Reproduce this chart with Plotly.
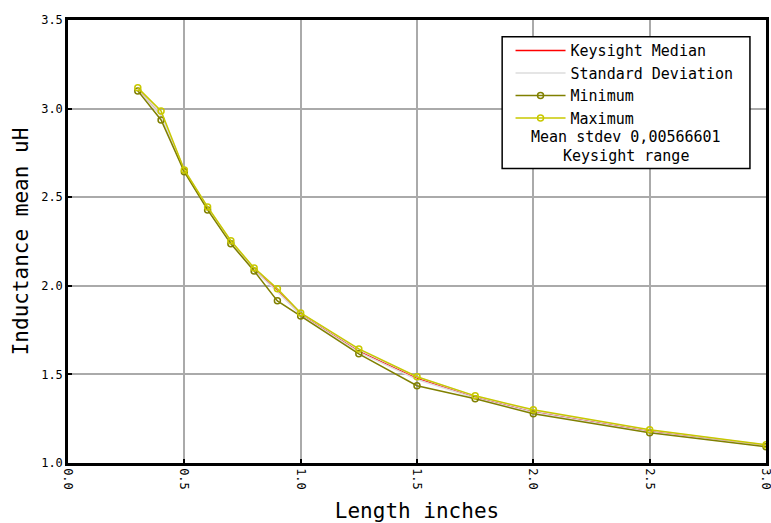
import plotly.graph_objects as go

length_in = [0.3, 0.4, 0.5, 0.6, 0.7, 0.8, 0.9, 1.0, 1.25, 1.5, 1.75, 2.0, 2.5, 3.0]
ind_max = [3.117, 2.987, 2.654, 2.445, 2.254, 2.101, 1.983, 1.847, 1.644, 1.487, 1.379, 1.300, 1.188, 1.103]
ind_min = [3.100, 2.936, 2.643, 2.428, 2.237, 2.084, 1.915, 1.830, 1.616, 1.436, 1.362, 1.278, 1.171, 1.092]
ind_median = [3.108, 2.965, 2.650, 2.437, 2.246, 2.093, 1.975, 1.840, 1.632, 1.478, 1.372, 1.290, 1.180, 1.098]
stdev = [0.006, 0.006, 0.005, 0.005, 0.005, 0.005, 0.008, 0.006, 0.006, 0.007, 0.005, 0.005, 0.005, 0.004]
mean_stdev_text = "Mean stdev 0,00566601"
range_text = "Keysight range"

upper = [m + s for m, s in zip(ind_median, stdev)]
lower = [m - s for m, s in zip(ind_median, stdev)]

FONT = "DejaVu Sans Mono"

fig = go.Figure()
fig.add_trace(go.Scatter(x=length_in, y=ind_median, mode="lines", name="Keysight Median",
                         line=dict(color="#ff0000", width=1.5)))
fig.add_trace(go.Scatter(x=length_in, y=upper, mode="lines", name="Standard Deviation",
                         line=dict(color="#dddddd", width=1.5), legendgroup="sd"))
fig.add_trace(go.Scatter(x=length_in, y=lower, mode="lines", name="Standard Deviation",
                         line=dict(color="#dddddd", width=1.5), legendgroup="sd", showlegend=False))
fig.add_trace(go.Scatter(x=length_in, y=ind_min, mode="lines+markers", name="Minimum",
                         line=dict(color="#808000", width=1.5),
                         marker=dict(symbol="circle-open", size=6, color="#808000", line=dict(width=1.5))))
fig.add_trace(go.Scatter(x=length_in, y=ind_max, mode="lines+markers", name="Maximum",
                         line=dict(color="#c8c800", width=1.5),
                         marker=dict(symbol="circle-open", size=6, color="#c8c800", line=dict(width=1.5))))

# legend box (white, black border) and extra legend text lines
fig.add_shape(type="rect", xref="paper", yref="paper", x0=0.622, x1=0.977, y0=0.665, y1=0.962,
              fillcolor="white", line=dict(color="black", width=1.5), layer="above")
fig.add_annotation(xref="paper", yref="paper", x=0.80, y=0.736, text=mean_stdev_text, showarrow=False,
                   font=dict(family=FONT, size=15, color="black"), xanchor="center", yanchor="middle")
fig.add_annotation(xref="paper", yref="paper", x=0.80, y=0.694, text=range_text, showarrow=False,
                   font=dict(family=FONT, size=15, color="black"), xanchor="center", yanchor="middle")

axis_common = dict(showgrid=True, gridcolor="#aaaaaa", gridwidth=1.5, zeroline=False,
                   showline=True, linecolor="black", linewidth=2.5, mirror=True,
                   ticks="inside", ticklen=4, tickcolor="black", tickwidth=1.5, automargin=False,
                   ticklabeloverflow="allow",
                   tickfont=dict(family=FONT, size=12, color="black"))

fig.update_layout(
    width=771, height=523,
    margin=dict(l=68, r=5, t=20, b=60),
    paper_bgcolor="white", plot_bgcolor="white",
    font=dict(family=FONT, color="black"),
    xaxis=dict(range=[0, 3], dtick=0.5, tickformat=".1f", tickangle=90,
               title=dict(text="Length inches", font=dict(family=FONT, size=21), standoff=18),
               **axis_common),
    yaxis=dict(range=[1, 3.5], dtick=0.5, tickformat=".1f",
               title=dict(text="Inductance mean uH", font=dict(family=FONT, size=21), standoff=7),
               **axis_common),
    legend=dict(x=0.634, y=0.968, xanchor="left", yanchor="top", bgcolor="rgba(0,0,0,0)",
                borderwidth=0, font=dict(family=FONT, size=15, color="black"),
                tracegroupgap=0, itemwidth=50),
    showlegend=True,
)

fig.write_html("out.html")
